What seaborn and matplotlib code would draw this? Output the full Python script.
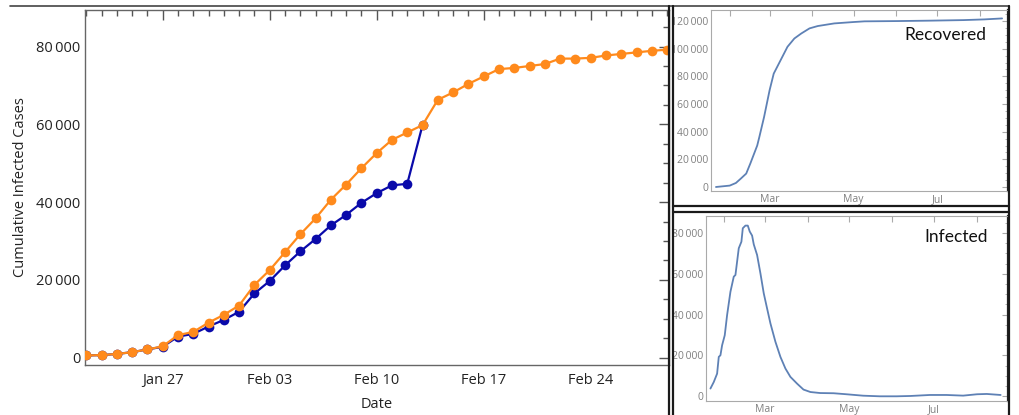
import numpy as np
import pandas as pd
import matplotlib
matplotlib.use("Agg")
import matplotlib.pyplot as plt
import matplotlib.dates as mdates
from matplotlib.ticker import MultipleLocator, FuncFormatter, FixedLocator
from matplotlib.lines import Line2D
import seaborn as sns

# ---------------- data ----------------
start_date = "2020-01-22"
orange_vals = [555, 650, 940, 1400, 2100, 2900, 5800, 6600, 9000, 11000, 13400,
               18700, 22500, 27100, 31700, 35800, 40600, 44500, 48700, 52600,
               56000, 57900, 59800, 66300, 68200, 70400, 72300, 74200, 74500,
               75000, 75500, 76900, 76900, 77100, 77700, 78100, 78500, 78900, 79200]
blue_vals = [555, 650, 940, 1400, 2100, 2800, 5400, 6100, 8000, 9700, 11800,
             16500, 19700, 23700, 27300, 30500, 34000, 36700, 39800, 42300,
             44300, 44700, 59800]

rec_days = [0, 10, 14.5, 18, 22, 25, 30, 31.5, 35, 39, 42, 47, 52, 57, 62, 68,
            74, 86, 100, 108, 132, 156, 180, 195, 208]
rec_vals = [0, 1000, 2900, 6000, 9700, 17000, 30000, 36000, 50700, 70000, 82000,
            91700, 101400, 107400, 111000, 114700, 116400, 118300, 119300, 119800,
            120000, 120300, 120700, 121200, 121900]

inf_days = [0, 2.4, 4.8, 6, 7.2, 8.4, 10.3, 12, 14.4, 16.8, 18, 20.4, 22.3, 23.3,
            25.2, 26.9, 28.3, 30, 31.2, 33.6, 36, 38.4, 40.8, 43.2, 46.8, 50.4,
            54, 57.6, 62.4, 67, 72, 79, 88.7, 98, 110, 122, 134, 144, 158, 170,
            182, 192, 199, 209]
inf_vals = [3800, 7000, 11100, 19300, 20100, 25000, 29900, 39800, 51200, 58600,
            59400, 72500, 75700, 82300, 83600, 83600, 80700, 78700, 74400, 69200,
            60200, 50400, 43000, 35700, 26700, 19300, 13600, 9500, 6200, 3300,
            2100, 1600, 1500, 1000, 300, 0, 0, 160, 650, 650, 330, 1000, 1150, 650]

x_labels_main = ["Jan 27", "Feb 03", "Feb 10", "Feb 17", "Feb 24"]
inset_month_labels = ["Mar", "May", "Jul"]

# ---------------- styling ----------------
sns.set_theme(style="white")
plt.rcParams['font.family'] = ['Open Sans', 'DejaVu Sans']

W, H = 1019, 415
fig = plt.figure(figsize=(W / 100, H / 100), dpi=100)

def px_rect(l, t, r, b):
    return [l / W, 1 - b / H, (r - l) / W, (b - t) / H]

def thin_thousands(v, p):
    return f"{int(round(v)):,}".replace(",", "\u2009")

ORANGE = "#FF8A1C"
BLUE = "#0A0AAA"
t0 = pd.Timestamp(start_date)

df_o = pd.DataFrame({"date": pd.date_range(start_date, periods=len(orange_vals)),
                     "val": orange_vals})
df_b = pd.DataFrame({"date": pd.date_range(start_date, periods=len(blue_vals)),
                     "val": blue_vals})

ax = fig.add_axes(px_rect(85, 10, 669, 365))
sns.lineplot(data=df_b, x="date", y="val", ax=ax, color=BLUE, marker="o",
             markersize=7, linewidth=1.6, markeredgewidth=0, zorder=2)
sns.lineplot(data=df_o, x="date", y="val", ax=ax, color=ORANGE, marker="o",
             markersize=7, linewidth=1.6, markeredgewidth=0, zorder=3)
ax.set_xlim(t0 - pd.Timedelta(hours=2), t0 + pd.Timedelta(days=38, hours=3))
ax.set_ylim(-1900, 89400)
tick_dates = [pd.Timestamp("2020 " + s) for s in x_labels_main]
ax.set_xticks(tick_dates)
ax.set_xticklabels(x_labels_main)
ax.xaxis.set_minor_locator(mdates.DayLocator())
ax.yaxis.set_major_locator(MultipleLocator(20000))
ax.yaxis.set_minor_locator(MultipleLocator(5000))
ax.yaxis.set_major_formatter(FuncFormatter(thin_thousands))
ax.tick_params(which="both", direction="in", top=True, right=True,
               colors="#555555", labelcolor="#222222", labelsize=10.5)
ax.tick_params(which="major", length=7, width=1)
ax.tick_params(which="minor", length=4, width=1)
ax.tick_params(axis="x", pad=6)
for s in ax.spines.values():
    s.set_color("#666666")
    s.set_linewidth(1)
ax.set_xlabel("Date", fontsize=10.5, color="#222222", labelpad=6)
ax.set_ylabel("Cumulative Infected Cases", fontsize=10.5, color="#222222", labelpad=6)

# ---------------- insets ----------------
def inset(rect, days, vals, ylim, xl, xr, label, label_xy):
    a = fig.add_axes(rect)
    d = pd.DataFrame({"date": [t0 + pd.Timedelta(days=v) for v in days], "val": vals})
    sns.lineplot(data=d, x="date", y="val", ax=a, color="#5E81B5", linewidth=1.3)
    mar1 = pd.Timestamp("2020-03-01")
    a.set_xlim(mar1 + pd.Timedelta(days=xl), mar1 + pd.Timedelta(days=xr))
    a.set_ylim(*ylim)
    a.xaxis.set_major_locator(mdates.MonthLocator())
    a.xaxis.set_major_formatter(FuncFormatter(
        lambda v, p: mdates.num2date(v).strftime("%b")
        if mdates.num2date(v).strftime("%b") in inset_month_labels else ""))
    a.yaxis.set_major_locator(MultipleLocator(20000))
    a.yaxis.set_minor_locator(MultipleLocator(5000))
    a.yaxis.set_major_formatter(FuncFormatter(thin_thousands))
    a.tick_params(which="both", direction="in", top=True, right=True,
                  colors="#aaaaaa", labelcolor="#808080", labelsize=7.5, pad=2)
    a.tick_params(which="major", length=4, width=0.8)
    a.tick_params(which="minor", length=2, width=0.6)
    for s in a.spines.values():
        s.set_color("#aaaaaa")
        s.set_linewidth(0.8)
    a.spines["right"].set_color("#222222")
    a.spines["right"].set_linewidth(1.6)
    a.set_xlabel("")
    a.set_ylabel("")
    a.text(label_xy[0], label_xy[1], label, transform=a.transAxes, ha="center",
           va="center", fontsize=12.5, color="#111111", family=["Lato", "DejaVu Sans"])
    return a

inset(px_rect(711, 10, 1008, 191), rec_days, rec_vals, (-2900, 128000),
      -42.6, 173.3, "Recovered", ((945 - 711) / (1008 - 711), 1 - (35 - 10) / 181))
inset(px_rect(706, 216, 1008, 401), inf_days, inf_vals, (-2300, 88300),
      -42.2, 175.3, "Infected", ((956 - 706) / (1008 - 706), 1 - (237 - 216) / 185))

# ---------------- frame decorations ----------------
def fline(x0, y0, x1, y1, lw=1.6, c="#1a1a1a"):
    fig.add_artist(Line2D([x0 / W, x1 / W], [1 - y0 / H, 1 - y1 / H],
                          transform=fig.transFigure, color=c, linewidth=lw))

fline(10, 6, 1009, 6, lw=1.2, c="#444444")
fline(669, 6, 669, 415)
fline(673, 6, 673, 415)
fline(1009, 6, 1009, 415)
fline(673, 206, 1009, 206)
fline(673, 212, 1009, 212)

fig.savefig("out.png", dpi=100)
